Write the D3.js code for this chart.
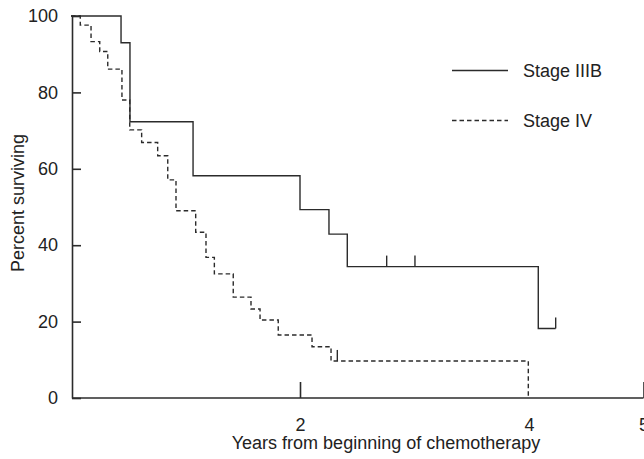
<!DOCTYPE html>
<html>
<head>
<meta charset="utf-8">
<script src="https://cdn.jsdelivr.net/npm/d3@7"></script>
<style>
  body { margin: 0; background: #fff; }
  svg text { font-family: "Liberation Sans", Arial, Helvetica, sans-serif; fill: #222; }
</style>
</head>
<body>
<svg class="chart"></svg>
<script>
// Kaplan-Meier steps (years, percent surviving)
const stage3bTimes = [0, 0.437, 0.515, 1.066, 2.0, 2.253, 2.413, 4.081, 4.233];
const stage3bPct   = [100, 93.0, 72.3, 58.2, 49.3, 42.9, 34.4, 18.2, 18.2];
const stage3bCensorTimes = [2.757, 3.004, 4.233];
const stage3bCensorPct   = [34.4, 34.4, 18.2];

const stage4Times = [0, 0.081, 0.175, 0.251, 0.321, 0.445, 0.513, 0.617, 0.757, 0.845,
  0.917, 1.089, 1.179, 1.252, 1.417, 1.572, 1.651, 1.810, 2.105, 2.271, 3.994];
const stage4Pct = [100, 97.6, 93.3, 90.7, 86.1, 78.0, 70.2, 66.9, 63.4, 57.1,
  49.0, 43.4, 36.8, 32.5, 26.4, 23.3, 20.4, 16.5, 13.4, 9.7, 0];
const stage4CensorTimes = [2.326];
const stage4CensorPct   = [9.7];

const xTicks = [2, 4, 5];
const yTicks = [0, 20, 40, 60, 80, 100];
const legendLabels = ["Stage IIIB", "Stage IV"];

const width = 644, height = 459;
const ink = "#2b2b2b";

const x = d3.scaleLinear().domain([0, 5]).range([71, 643.5]);
const y = d3.scaleLinear().domain([0, 100]).range([398, 16]);

const svg = d3.select(".chart")
  .attr("width", width)
  .attr("height", height);

// axes, ticks pointing inward
const xAxis = d3.axisBottom(x)
  .tickValues(xTicks)
  .tickFormat(d3.format("d"))
  .tickSizeInner(-16)
  .tickSizeOuter(0)
  .tickPadding(20);

const yAxis = d3.axisLeft(y)
  .tickValues(yTicks)
  .tickSizeInner(-9)
  .tickSizeOuter(0)
  .tickPadding(14);

const gx = svg.append("g")
  .attr("transform", `translate(0,${y(0)})`)
  .call(xAxis);
gx.select(".domain").attr("d", `M${x(0) + 1},0H${x(5)}`);
// no tick mark at 4 (the dashed drop sits there)
gx.selectAll(".tick").filter(d => d === 4).select("line").remove();

const gy = svg.append("g")
  .attr("transform", `translate(${x(0) + 1},0)`)
  .call(yAxis);

svg.selectAll(".domain, .tick line")
  .attr("stroke", ink)
  .attr("stroke-width", 1.6);
svg.selectAll(".tick text")
  .style("font-size", "18px")
  .attr("fill", "#222");

// curves
const line = d3.line()
  .x(d => x(d[0]))
  .y(d => y(d[1]))
  .curve(d3.curveStepAfter);

svg.append("path")
  .datum(d3.zip(stage3bTimes, stage3bPct))
  .attr("d", line)
  .attr("fill", "none")
  .attr("stroke", ink)
  .attr("stroke-width", 1.4);

svg.append("path")
  .datum(d3.zip(stage4Times, stage4Pct))
  .attr("d", line)
  .attr("fill", "none")
  .attr("stroke", ink)
  .attr("stroke-width", 1.4)
  .attr("stroke-dasharray", "4.5,3");

// censor marks
const censors = d3.zip(stage3bCensorTimes, stage3bCensorPct)
  .concat(d3.zip(stage4CensorTimes, stage4CensorPct));
svg.selectAll(".censor")
  .data(censors)
  .enter()
  .append("line")
    .attr("class", "censor")
    .attr("x1", d => x(d[0]))
    .attr("x2", d => x(d[0]))
    .attr("y1", d => y(d[1]))
    .attr("y2", d => y(d[1]) - 11)
    .attr("stroke", ink)
    .attr("stroke-width", 1.4);

// legend
const legend = svg.selectAll(".legend")
  .data(legendLabels)
  .enter()
  .append("g")
    .attr("class", "legend")
    .attr("transform", (d, i) => `translate(452,${70.5 + i * 50})`);

legend.append("line")
  .attr("x1", 0)
  .attr("x2", 56)
  .attr("stroke", ink)
  .attr("stroke-width", 1.4)
  .attr("stroke-dasharray", (d, i) => i ? "4.5,3" : null);

legend.append("text")
  .attr("x", 71)
  .attr("y", 6)
  .style("font-size", "18px")
  .text(d => d);

// axis titles
svg.append("text")
  .attr("x", 386)
  .attr("y", 449)
  .attr("text-anchor", "middle")
  .style("font-size", "18px")
  .text("Years from beginning of chemotherapy");

svg.append("text")
  .attr("transform", "translate(24,203) rotate(-90)")
  .attr("text-anchor", "middle")
  .style("font-size", "18px")
  .text("Percent surviving");
</script>
</body>
</html>
